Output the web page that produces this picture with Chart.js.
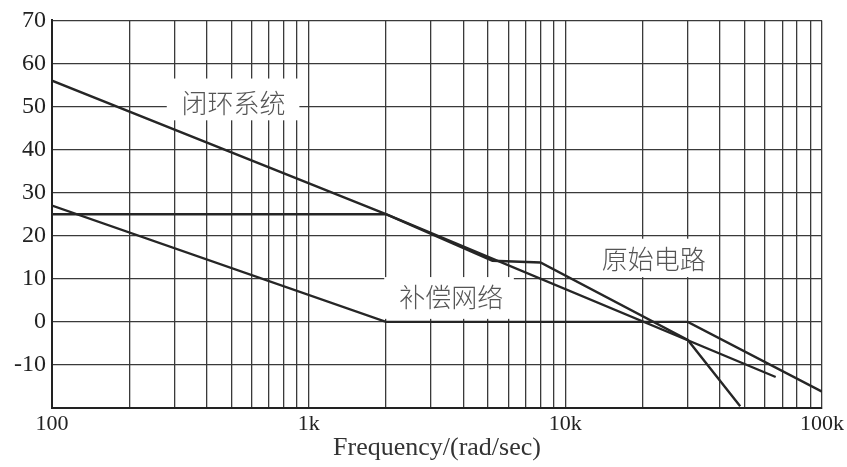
<!DOCTYPE html>
<html>
<head>
<meta charset="utf-8">
<script src="https://cdn.jsdelivr.net/npm/chart.js@4/dist/chart.umd.min.js"></script>
<style>
    html, body { margin: 0; padding: 0; background: #fff; }
    #wrap { width: 847px; height: 467px; }
</style>
</head>
<body>
<div id="wrap"><canvas id="chart1"></canvas></div>
<script>
// Frequency (rad/sec) and gain (dB) corners
const closedFreq = [100, 2000, 66000];
const closedGain = [56, 25, -12.8];

const compFreq = [100, 2000, 30000, 100000];
const compGain = [27, 0, 0, -16.2];

const origFreq = [100, 2000, 5200, 8000, 30000, 48000];
const origGain = [25, 25, 14.2, 13.8, -4.2, -19.6];

const xTickLabels = { 100: "100", 1000: "1k", 10000: "10k", 100000: "100k" };
const yTicks = [-20, -10, 0, 10, 20, 30, 40, 50, 60, 70];

// text labels: centre + white box, in data coords
const labels = [
    { text: "闭环系统", x: 510, y: 50.7, box: [280, 920, 56.5, 46.8] },
    { text: "补偿网络", x: 3590, y: 5.8, box: [1970, 6300, 10.4, 0.7] },
    { text: "原始电路", x: 22100, y: 14.5, box: [12300, 39500, 19.3, 10.4] }
];

function toPoints(xs, ys) {
    return xs.map((x, i) => ({ x: x, y: ys[i] }));
}

const labelPlugin = {
    id: "labelPlugin",
    beforeDatasetsDraw(chart) {
        const ctx = chart.ctx;
        const xs = chart.scales.x;
        const ys = chart.scales.y;
        ctx.save();
        labels.forEach(l => {
            const x1 = xs.getPixelForValue(l.box[0]);
            const x2 = xs.getPixelForValue(l.box[1]);
            const y1 = ys.getPixelForValue(l.box[2]);
            const y2 = ys.getPixelForValue(l.box[3]);
            ctx.fillStyle = "#fff";
            ctx.fillRect(x1, y1, x2 - x1, y2 - y1);
            ctx.fillStyle = "#555";
            ctx.font = "300 26px 'Noto Sans CJK SC'";
            ctx.textAlign = "center";
            ctx.textBaseline = "middle";
            ctx.fillText(l.text, xs.getPixelForValue(l.x), ys.getPixelForValue(l.y));
        });
        ctx.restore();
    }
};

document.addEventListener("DOMContentLoaded", function() {
    const lineStyle = {
        borderColor: "#262626",
        borderWidth: 2.4,
        pointRadius: 0,
        tension: 0,
        fill: false,
        showLine: true
    };

    new Chart(document.getElementById("chart1"), {
        type: "scatter",
        data: {
            datasets: [
                Object.assign({ label: "闭环系统", data: toPoints(closedFreq, closedGain) }, lineStyle),
                Object.assign({ label: "补偿网络", data: toPoints(compFreq, compGain) }, lineStyle),
                Object.assign({ label: "原始电路", data: toPoints(origFreq, origGain) }, lineStyle)
            ]
        },
        options: {
            responsive: true,
            maintainAspectRatio: false,
            animation: false,
            layout: { padding: { top: 16, right: 22, left: 0, bottom: 0 } },
            plugins: {
                legend: { display: false },
                tooltip: { enabled: false }
            },
            scales: {
                x: {
                    type: "logarithmic",
                    min: 100,
                    max: 100000,
                    afterBuildTicks: scale => {
                        const ticks = [];
                        for (let d = 100; d <= 100000; d *= 10) {
                            for (let m = 1; m <= 9; m++) {
                                if (d * m <= 100000) ticks.push({ value: d * m });
                            }
                        }
                        scale.ticks = ticks;
                    },
                    afterFit: scale => { scale.height = 59; },
                    ticks: {
                        autoSkip: false,
                        maxRotation: 0,
                        padding: 3,
                        color: "#222",
                        font: { family: "'Liberation Serif'", size: 22 },
                        callback: v => xTickLabels[v] || ""
                    },
                    grid: { color: "#3a3a3a", lineWidth: 1.3, drawTicks: false },
                    border: { color: "#222", width: 2 },
                    title: {
                        display: true,
                        text: "Frequency/(rad/sec)",
                        color: "#333",
                        font: { family: "'Liberation Serif'", size: 26 },
                        padding: { top: 0, bottom: 3 }
                    }
                },
                y: {
                    min: -20,
                    max: 70,
                    afterBuildTicks: scale => {
                        scale.ticks = yTicks.map(v => ({ value: v }));
                    },
                    afterFit: scale => { scale.width = 52; },
                    ticks: {
                        padding: 6,
                        color: "#222",
                        font: { family: "'Liberation Serif'", size: 24 },
                        callback: v => v === -20 ? "" : v
                    },
                    grid: { color: "#3a3a3a", lineWidth: 1.3, drawTicks: false },
                    border: { color: "#222", width: 2 }
                }
            }
        },
        plugins: [labelPlugin]
    });
});
</script>
</body>
</html>
